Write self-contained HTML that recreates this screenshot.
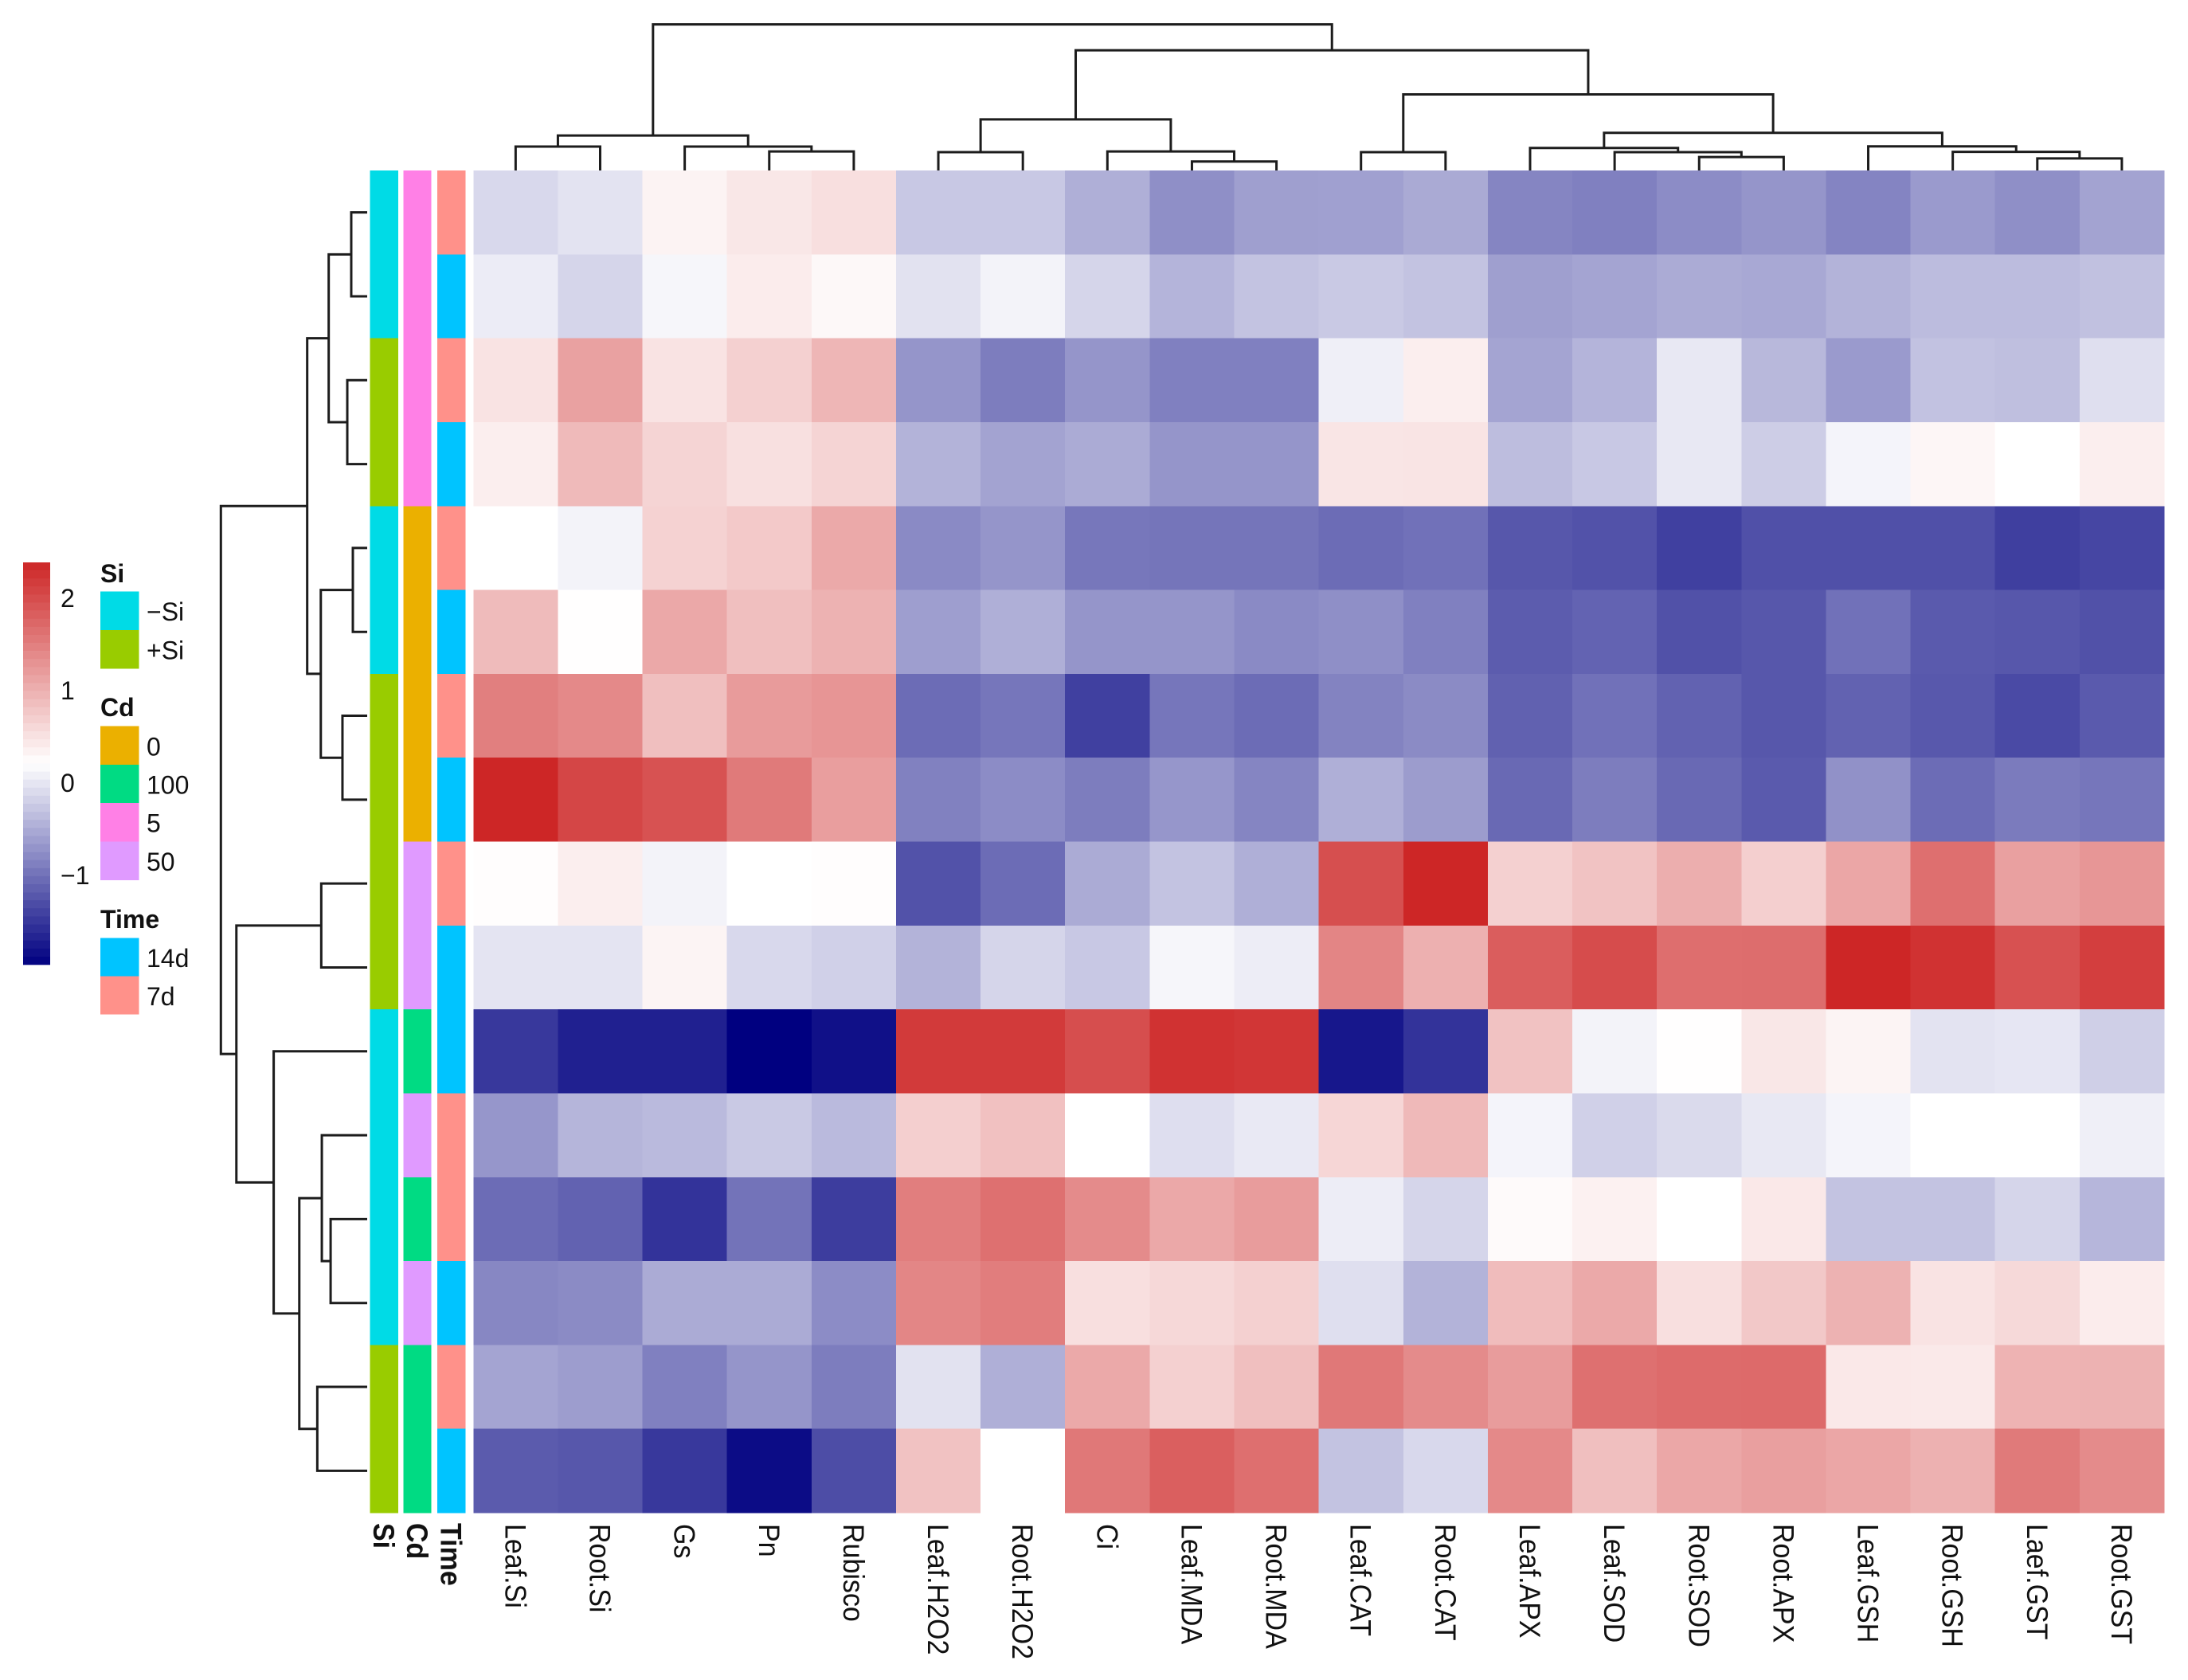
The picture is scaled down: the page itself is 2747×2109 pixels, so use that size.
<!DOCTYPE html>
<html lang="en">
<head>
<meta charset="utf-8">
<title>Clustered heatmap of leaf and root traits</title>
<style>
html,body{margin:0;padding:0;background:#fff;}
svg{display:block;}
text{font-family:"Liberation Sans",Arial,sans-serif;fill:#111;}
.t{font-size:32px;}
.b{font-size:32px;font-weight:bold;}
</style>
</head>
<body>
<svg id="chart" xmlns="http://www.w3.org/2000/svg" width="2747" height="2109" viewBox="0 0 2747 2109">
  <rect x="0" y="0" width="2747" height="2109" fill="#ffffff"/>
  <g id="dendro-top"></g>
  <g id="dendro-left"></g>
  <g id="annotations"></g>
  <g id="cells"></g>
  <g id="labels"></g>
  <g id="colorbar"></g>

  <g>
    <text class="b" x="126" y="731">Si</text>
    <rect x="126" y="742.5" width="48.5" height="48.5" fill="#00dbe6"/>
    <rect x="126" y="791" width="48.5" height="48.5" fill="#99cc00"/>
    <text class="t" x="184" y="779">−Si</text>
    <text class="t" x="184" y="827.5">+Si</text>
  </g>
  <g>
    <text class="b" x="126" y="899">Cd</text>
    <rect x="126" y="911.5" width="48.5" height="48.5" fill="#ebb000"/>
    <rect x="126" y="960" width="48.5" height="48.5" fill="#00db83"/>
    <rect x="126" y="1008" width="48.5" height="48.5" fill="#ff80e6"/>
    <rect x="126" y="1056.5" width="48.5" height="48.5" fill="#e09aff"/>
    <text class="t" x="184" y="948.5">0</text>
    <text class="t" x="184" y="996.5">100</text>
    <text class="t" x="184" y="1044.5">5</text>
    <text class="t" x="184" y="1093">50</text>
  </g>
  <g>
    <text class="b" x="126" y="1165">Time</text>
    <rect x="126" y="1177.5" width="48.5" height="48" fill="#00c4ff"/>
    <rect x="126" y="1225.5" width="48.5" height="48" fill="#ff918a"/>
    <text class="t" x="184" y="1214">14d</text>
    <text class="t" x="184" y="1262">7d</text>
  </g>
</svg>
<script>
const columnNames = ["Leaf.Si","Root.Si","Gs","Pn","Rubisco","Leaf.H2O2","Root.H2O2","Ci","Leaf.MDA","Root.MDA","Leaf.CAT","Root.CAT","Leaf.APX","Leaf.SOD","Root.SOD","Root.APX","Leaf.GSH","Root.GSH","Laef.GST","Root.GST"];
const rowSi = ["-Si","-Si","+Si","+Si","-Si","-Si","+Si","+Si","+Si","+Si","-Si","-Si","-Si","-Si","+Si","+Si"];
const rowCd = ["5","5","5","5","0","0","0","0","50","50","100","50","100","50","100","100"];
const rowTime = ["7d","14d","7d","14d","7d","14d","7d","14d","7d","14d","14d","7d","7d","14d","7d","14d"];
const heatValues = [
 [-0.12,-0.03,0.33,0.45,0.53,-0.26,-0.26,-0.47,-0.75,-0.61,-0.60,-0.52,-0.83,-0.88,-0.77,-0.70,-0.84,-0.65,-0.75,-0.58],
 [0.05,-0.15,0.13,0.40,0.28,-0.04,0.11,-0.15,-0.43,-0.30,-0.25,-0.30,-0.61,-0.57,-0.51,-0.53,-0.44,-0.36,-0.36,-0.32],
 [0.49,1.15,0.49,0.68,0.94,-0.70,-0.90,-0.70,-0.88,-0.88,0.07,0.38,-0.57,-0.43,0.01,-0.40,-0.65,-0.31,-0.34,-0.06],
 [0.38,0.90,0.64,0.52,0.64,-0.44,-0.58,-0.51,-0.70,-0.70,0.47,0.48,-0.35,-0.26,0.01,-0.22,0.12,0.30,0.21,0.38],
 [0.21,0.11,0.66,0.75,1.07,-0.79,-0.70,-0.95,-0.97,-0.97,-1.05,-1.00,-1.23,-1.27,-1.42,-1.29,-1.29,-1.29,-1.43,-1.37],
 [0.89,0.22,1.08,0.85,0.98,-0.62,-0.47,-0.70,-0.70,-0.79,-0.75,-0.88,-1.18,-1.12,-1.28,-1.23,-1.00,-1.20,-1.23,-1.28],
 [1.50,1.40,0.85,1.21,1.27,-1.05,-0.96,-1.42,-0.96,-1.05,-0.85,-0.78,-1.14,-1.00,-1.13,-1.23,-1.13,-1.22,-1.34,-1.20],
 [2.39,2.07,1.95,1.55,1.18,-0.87,-0.77,-0.90,-0.69,-0.83,-0.47,-0.64,-1.07,-0.90,-1.07,-1.20,-0.73,-1.05,-0.92,-0.96],
 [0.23,0.38,0.11,0.21,0.23,-1.27,-1.05,-0.51,-0.30,-0.47,1.98,2.39,0.68,0.81,1.02,0.69,1.10,1.66,1.16,1.26],
 [-0.02,-0.02,0.32,-0.12,-0.19,-0.44,-0.15,-0.26,0.13,0.06,1.44,1.00,1.84,2.01,1.67,1.68,2.39,2.27,1.96,2.15],
 [-1.49,-1.70,-1.70,-1.97,-1.83,2.19,2.19,1.99,2.27,2.23,-1.77,-1.53,0.82,0.11,0.22,0.45,0.32,-0.03,0.00,-0.20],
 [-0.69,-0.42,-0.38,-0.25,-0.38,0.69,0.83,0.21,-0.07,0.02,0.62,0.91,0.12,-0.19,-0.11,0.01,0.12,0.21,0.21,0.07],
 [-1.05,-1.13,-1.53,-0.99,-1.45,1.51,1.65,1.38,1.08,1.20,0.06,-0.15,0.26,0.35,0.21,0.44,-0.30,-0.30,-0.15,-0.41],
 [-0.82,-0.78,-0.51,-0.51,-0.77,1.43,1.52,0.53,0.60,0.68,-0.06,-0.44,0.88,1.07,0.53,0.76,0.98,0.49,0.59,0.40],
 [-0.57,-0.63,-0.88,-0.70,-0.90,-0.04,-0.47,1.07,0.68,0.85,1.57,1.38,1.20,1.65,1.70,1.71,0.44,0.43,0.97,0.98],
 [-1.19,-1.23,-1.49,-1.87,-1.31,0.82,0.21,1.57,1.82,1.66,-0.30,-0.12,1.40,0.85,1.09,1.17,1.10,0.99,1.55,1.38]
];
const scaleTicks = [2,1,0,-1];
const scaleMin = -1.97;
const scaleMax = 2.39;
const scaleSteps = 50;
/* dendrograms: [merge distance, left branch, right branch]; a bare number is a leaf index */
const columnTree = [9.98,
  [2.39,[1.63,0,1],[1.63,2,[1.30,3,4]]],
  [8.21,
    [3.49,[1.25,5,6],[1.30,7,[0.61,8,9]]],
    [5.20,[1.25,10,11],
      [2.57,
        [1.54,12,[1.25,13,[0.92,14,15]]],
        [1.65,16,[1.27,17,[0.82,18,19]]]]]]];
const rowTree = [10.0,
  [4.10,
    [2.63,[1.09,0,1],[1.36,2,3]],
    [3.17,[0.98,4,5],[1.69,6,7]]],
  [8.94,
    [3.14,8,9],
    [6.39,10,
      [4.64,
        [3.10,11,[2.50,12,13]],
        [3.41,14,15]]]]];

const NS = "http://www.w3.org/2000/svg";
const siColor = {"-Si":"#00dbe6","+Si":"#99cc00"};
const cdColor = {"0":"#ebb000","100":"#00db83","5":"#ff80e6","50":"#e09aff"};
const timeColor = {"14d":"#00c4ff","7d":"#ff918a"};

const heatLeft = 594.3, heatRight = 2717, heatTop = 214, heatBottom = 1899;
const cellW = (heatRight - heatLeft) / columnNames.length;
const cellH = (heatBottom - heatTop) / heatValues.length;
const xCol = function (i) { return heatLeft + i * cellW; };
const yRow = function (i) { return heatTop + i * cellH; };
const distPx = 18.37;
const yDist = function (d) { return heatTop - d * distPx; };
const xDist = function (d) { return 461 - d * distPx; };
const barTop = 706, barBottom = 1211;
const yScale = function (v) { return 983 - 116 * v; };

function colorOf(v) {
  const mid = (scaleMin + scaleMax) / 2;
  let r, g, b;
  if (v <= mid) {
    const t = Math.min(1, (mid - v) / (mid - scaleMin));
    r = 255 * (1 - t); g = 255 * (1 - t); b = 255 - 127 * t;
  } else {
    const t = Math.min(1, (v - mid) / (scaleMax - mid));
    r = 255 - 50 * t; g = 255 - 217 * t; b = 255 - 217 * t;
  }
  return "rgb(" + Math.round(r) + "," + Math.round(g) + "," + Math.round(b) + ")";
}
function make(tag, attrs, parent) {
  const el = document.createElementNS(NS, tag);
  for (const k in attrs) el.setAttribute(k, attrs[k]);
  parent.appendChild(el);
  return el;
}

/* heat cells */
const cellsG = document.getElementById("cells");
heatValues.forEach(function (row, r) {
  row.forEach(function (v, c) {
    const el = make("rect", {x: xCol(c), y: yRow(r), width: cellW + 0.4, height: cellH + 0.4, fill: colorOf(v), "shape-rendering": "crispEdges"}, cellsG);
    
    
  });
});

/* annotation strips */
const annG = document.getElementById("annotations");
const strips = [
  {x: 464.3, w: 35.7, vals: rowSi, colors: siColor},
  {x: 506.3, w: 35.4, vals: rowCd, colors: cdColor},
  {x: 549, w: 35.3, vals: rowTime, colors: timeColor}
];
strips.forEach(function (s) {
  s.vals.forEach(function (v, r) {
    const el = make("rect", {x: s.x, y: yRow(r), width: s.w, height: cellH + 0.4, fill: s.colors[v], "shape-rendering": "crispEdges"}, annG);
    
    
  });
});

/* dendrograms */
function drawTree(node, group, leafPos, distPos, horizontalLeaves) {
  if (typeof node === "number") return {p: leafPos(node), d: distPos(0)};
  const a = drawTree(node[1], group, leafPos, distPos, horizontalLeaves);
  const b = drawTree(node[2], group, leafPos, distPos, horizontalLeaves);
  const h = distPos(node[0]);
  const pts = horizontalLeaves
    ? [[a.p, a.d], [a.p, h], [b.p, h], [b.p, b.d]]
    : [[a.d, a.p], [h, a.p], [h, b.p], [b.d, b.p]];
  const el = make("polyline", {points: pts.map(function (q) { return q.join(","); }).join(" "), fill: "none", stroke: "#1c1c1c", "stroke-width": 3}, group);
  
  
  return {p: (a.p + b.p) / 2, d: h};
}
drawTree(columnTree, document.getElementById("dendro-top"), function (i) { return xCol(i + 0.5); }, yDist, true);
drawTree(rowTree, document.getElementById("dendro-left"), function (i) { return yRow(i + 0.5); }, xDist, false);

/* column + strip labels: glyphs are slightly stretched across the text direction, as in the source */
const labG = document.getElementById("labels");
columnNames.forEach(function (name, i) {
  const el = make("text", {transform: "translate(" + (xCol(i + 0.5) - 13) + ",1913) rotate(90) scale(1,1.08)", "font-size": 34}, labG);
  el.textContent = name;
  
  
});
const stripNames = ["Si", "Cd", "Time"];
stripNames.forEach(function (name, i) {
  const el = make("text", {transform: "translate(" + (strips[i].x + strips[i].w / 2 - 13) + ",1912) rotate(90) scale(1,1.08)", "font-size": 34, "font-weight": "bold"}, labG);
  el.textContent = name;
  
  
});

/* colour scale */
const barG = document.getElementById("colorbar");
const bandH = (barBottom - barTop) / scaleSteps;
for (let i = 0; i < scaleSteps; i++) {
  const v = scaleMax - (i + 0.5) * (scaleMax - scaleMin) / scaleSteps;
  const el = make("rect", {x: 29, y: barTop + i * bandH, width: 34, height: bandH + 0.3, fill: colorOf(v)}, barG);
  
  
}
scaleTicks.forEach(function (v) {
  const el = make("text", {x: 76, y: yScale(v) + 11, "font-size": 32}, barG);
  el.textContent = v < 0 ? "\u2212" + Math.abs(v) : String(v);
  
  
});
</script>
</body>
</html>
